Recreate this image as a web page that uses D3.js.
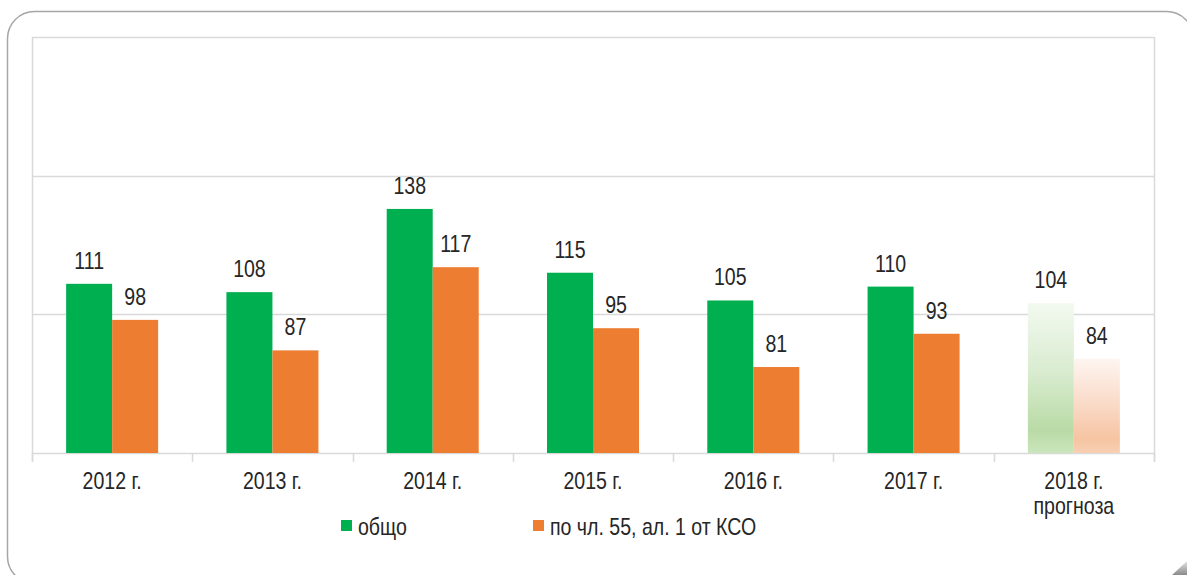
<!DOCTYPE html>
<html>
<head>
<meta charset="utf-8">
<script src="https://cdn.jsdelivr.net/npm/d3@7"></script>
<style>
    body { margin: 0; background: #fff; }
    svg text { font-family: "Liberation Sans", Arial, sans-serif; fill: #262626; }
</style>
</head>
<body>
<div class="chart"></div>
<script>
const years = ["2012 г.", "2013 г.", "2014 г.", "2015 г.", "2016 г.", "2017 г.", "2018 г.|прогноза"]
const series = ["общо", "по чл. 55, ал. 1 от КСО"]
const total = [111, 108, 138, 115, 105, 110, 104]
const art55 = [98, 87, 117, 95, 81, 93, 84]
const y_ticks = [50, 100, 150, 200]

const ctx = {
    W: 1187,
    H: 575,
    left: 32,
    right: 1154,
    top: 37,
    bottom: 453,
    colors: ["#00b050", "#ed7d31"],
    narrow: 0.85, // no Arial Narrow installed, squeeze Liberation Sans instead
}

// text squeezed horizontally around its anchor point
function narrow_text(sel, x, y) {
    return sel.attr("transform", d => `translate(${x(d)},${y(d)}) scale(${ctx.narrow},1)`)
}

function draw() {
    const svg = d3.select(".chart")
        .append("svg")
        .attr("width", ctx.W)
        .attr("height", ctx.H)

    const defs = svg.append("defs")
    // forecast year: faded gradient fills
    const grads = [
        ["grad-green", [["0%", "#f3f9f0"], ["45%", "#d9ecd0"], ["85%", "#b9dba6"], ["100%", "#cbe5bd"]]],
        ["grad-orange", [["0%", "#fef5f0"], ["45%", "#fadccb"], ["85%", "#f6c4a2"], ["100%", "#f8d0b4"]]],
        ["grad-corner", [["0%", "#e6e6e6"], ["100%", "#8a8a8a"]]],
    ]
    grads.forEach(([id, stops]) => {
        let g = defs.append("linearGradient")
            .attr("id", id)
            .attr("x1", 0).attr("y1", 0).attr("x2", 0).attr("y2", 1)
        stops.forEach(s => g.append("stop").attr("offset", s[0]).attr("stop-color", s[1]))
    })

    // outer rounded frame
    svg.append("rect")
        .attr("x", 7.5)
        .attr("y", 11.5)
        .attr("width", 1186)
        .attr("height", 572)
        .attr("rx", 27)
        .attr("fill", "none")
        .attr("stroke", "#a6a6a6")
        .attr("stroke-width", 1.5)
    svg.append("path")
        .attr("d", "M1172,575 L1187,575 L1187,561 Z")
        .attr("fill", "url(#grad-corner)")

    const x0 = d3.scaleBand()
        .domain(years)
        .range([ctx.left, ctx.right])

    const x1 = d3.scaleBand()
        .domain(series)
        .range([0, x0.bandwidth()])
        .paddingInner(0)
        .paddingOuter(0.742)

    const y = d3.scaleLinear()
        .domain([50, 200])
        .range([ctx.bottom, ctx.top])

    // grid
    svg.append("g")
        .attr("id", "grid")
        .selectAll("line")
        .data(y_ticks)
        .enter()
        .append("line")
        .attr("x1", ctx.left)
        .attr("x2", ctx.right)
        .attr("y1", d => Math.round(y(d)) + 0.5)
        .attr("y2", d => Math.round(y(d)) + 0.5)
        .attr("stroke", "#d9d9d9")
        .attr("stroke-width", 1.5)

    // side lines of the plot box
    svg.append("g")
        .selectAll("line")
        .data([ctx.left, ctx.right])
        .enter()
        .append("line")
        .attr("x1", d => d + 0.5)
        .attr("x2", d => d + 0.5)
        .attr("y1", ctx.top)
        .attr("y2", ctx.bottom + 9)
        .attr("stroke", "#d9d9d9")
        .attr("stroke-width", 1.5)

    // category axis
    const xAxis = svg.append("g")
        .attr("transform", `translate(0,${ctx.bottom})`)
        .call(d3.axisBottom(x0).tickSize(0).tickFormat(""))
    xAxis.select(".domain").remove()

    const bounds = years.map(d => x0(d)).concat([ctx.right])
    svg.append("g")
        .selectAll("line")
        .data(bounds)
        .enter()
        .append("line")
        .attr("x1", d => Math.round(d) + 0.5)
        .attr("x2", d => Math.round(d) + 0.5)
        .attr("y1", ctx.bottom)
        .attr("y2", ctx.bottom + 9)
        .attr("stroke", "#d9d9d9")
        .attr("stroke-width", 1.5)

    svg.append("g")
        .selectAll("text")
        .data(years)
        .enter()
        .append("text")
        .call(narrow_text, d => x0(d) + x0.bandwidth() / 2, d => 489)
        .attr("text-anchor", "middle")
        .style("font-size", "23px")
        .each(function(d) {
            const parts = d.split("|")
            parts.forEach((p, i) => {
                d3.select(this).append("tspan")
                    .attr("x", 0)
                    .attr("dy", i == 0 ? 0 : 25)
                    .text(p)
            })
        })

    // bars
    const rows = years.map((yr, i) => ({ year: yr, values: [total[i], art55[i]], forecast: i == years.length - 1 }))
    const groups = svg.append("g")
        .attr("id", "bars")
        .selectAll("g")
        .data(rows)
        .enter()
        .append("g")
        .attr("transform", d => `translate(${x0(d.year)},0)`)

    groups.selectAll("rect")
        .data(d => d.values.map((v, j) => ({ key: series[j], v: v, j: j, forecast: d.forecast })))
        .enter()
        .append("rect")
        .attr("x", d => x1(d.key))
        .attr("width", x1.bandwidth())
        .attr("y", d => y(d.v))
        .attr("height", d => ctx.bottom - y(d.v))
        .attr("fill", d => d.forecast ? (d.j == 0 ? "url(#grad-green)" : "url(#grad-orange)") : ctx.colors[d.j])

    groups.selectAll("text")
        .data(d => d.values.map((v, j) => ({ key: series[j], v: v })))
        .enter()
        .append("text")
        .call(narrow_text, d => x1(d.key) + x1.bandwidth() / 2, d => y(d.v) - 15)
        .attr("text-anchor", "middle")
        .style("font-size", "23px")
        .text(d => d.v)

    // legend
    const legend_x = [341, 533]
    const legend = svg.append("g")
        .attr("id", "legend")
        .selectAll("g")
        .data(series)
        .enter()
        .append("g")
        .attr("transform", (d, i) => `translate(${legend_x[i]},520)`)
    legend.append("rect")
        .attr("width", 11)
        .attr("height", 11)
        .attr("fill", (d, i) => ctx.colors[i])
    legend.append("text")
        .call(narrow_text, d => 17, d => 15)
        .style("font-size", "23px")
        .text(d => d)
}

draw()
</script>
</body>
</html>
